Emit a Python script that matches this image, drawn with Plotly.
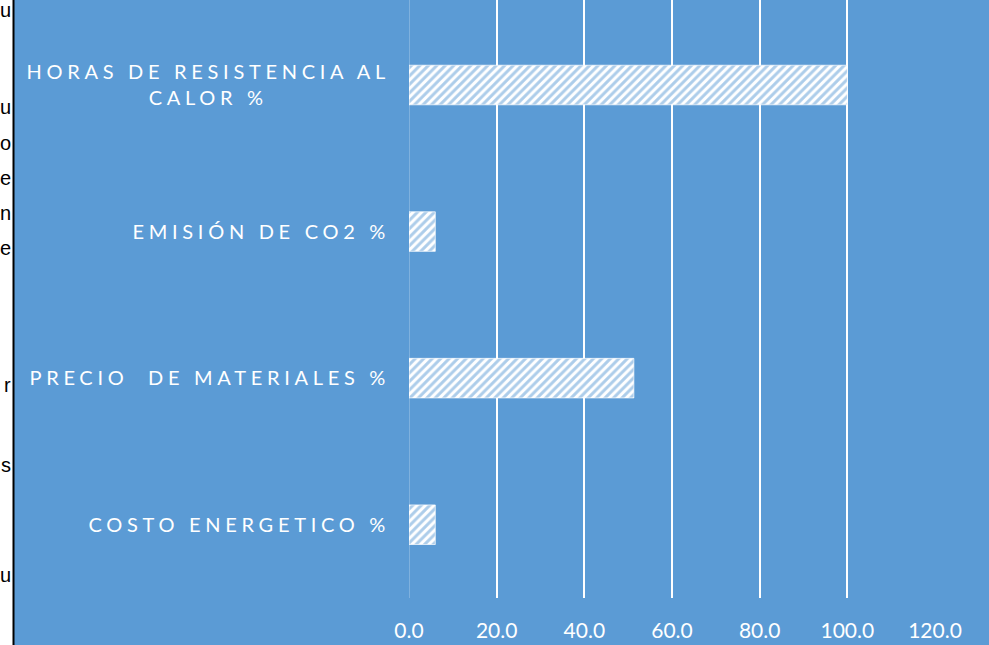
import plotly.graph_objects as go

# bars from bottom to top
categorias = ['COSTO ENERGETICO %', 'PRECIO  DE MATERIALES %', 'EMISIÓN DE CO2 %',
              'HORAS DE RESISTENCIA AL<br>CALOR %']
valores = [6.0, 51.3, 6.0, 100.0]
ticks_x = [0, 20, 40, 60, 80, 100, 120]
ticks_x_txt = ['0.0', '20.0', '40.0', '60.0', '80.0', '100.0', '120.0']

# letters of the neighbouring slide text that peek in on the left edge
letras_borde = ['u', 'u', 'o', 'e', 'n', 'e', 'r', 's', 'u']
letras_y = [10, 107, 143, 178, 213, 248, 385, 465, 575]

AZUL = '#5B9BD5'
W, H = 989, 645
ML, MR, MT, MB = 409, 54, 0, 47
PW, PH = W - ML - MR, H - MT - MB


def px_x(px):
    return (px - ML) / PW


def px_y(py):
    return (H - MB - py) / PH


fig = go.Figure()
fig.add_trace(go.Bar(
    x=valores, y=categorias, orientation='h', width=0.27,
    marker=dict(color='white', line=dict(color='rgba(255,255,255,0.7)', width=1),
                pattern=dict(shape='/', fgcolor=AZUL, bgcolor='white', size=6, solidity=0.5)),
    hoverinfo='x+y', showlegend=False,
))

# blue slide area (the page background is the white strip on the left)
fig.add_shape(type='rect', xref='paper', yref='paper', x0=px_x(14), x1=px_x(W),
              y0=px_y(H), y1=px_y(0), fillcolor=AZUL, line=dict(width=0), layer='below')
# black frame line
fig.add_shape(type='line', xref='paper', yref='paper', x0=px_x(13.5), x1=px_x(13.5),
              y0=px_y(H), y1=px_y(0), line=dict(color='black', width=2), layer='above')
# faint line at x = 0
fig.add_shape(type='line', xref='x', yref='paper', x0=0, x1=0, y0=0, y1=1,
              line=dict(color='rgba(255,255,255,0.45)', width=1))

for ch, yy in zip(letras_borde, letras_y):
    fig.add_annotation(text=ch, xref='paper', yref='paper', x=px_x(13), y=px_y(yy),
                       xanchor='right', yanchor='middle', showarrow=False,
                       font=dict(family='Liberation Sans, Arial', size=20, color='black'))

fig.update_layout(
    width=W, height=H,
    margin=dict(l=ML, r=MR, t=MT, b=MB, pad=0),
    paper_bgcolor='white', plot_bgcolor=AZUL,
    font=dict(family='Lato, Noto Sans, sans-serif', color='white'),
    xaxis=dict(range=[0, 120], tickvals=ticks_x, ticktext=ticks_x_txt,
               showgrid=True, gridcolor='white', gridwidth=1.5, zeroline=False,
               showline=False, ticks='', tickfont=dict(size=21, color='white'),
               ticklabelstandoff=18),
    yaxis=dict(categoryorder='array', categoryarray=categorias, range=[-0.5, 3.58],
               showgrid=False, zeroline=False, showline=False, ticks='',
               tickfont=dict(size=20, color='white'), ticklabelstandoff=18),
)

# Excel style wide letter spacing on the category labels, second line centred
post = """
var gd = document.getElementById('{plot_id}');
document.body.style.margin = '0';
gd.querySelectorAll('.ytick text').forEach(function(t){
    t.style.letterSpacing = '4.7px';
    var lines = t.querySelectorAll('tspan.line');
    if (lines.length > 1) {
        var w0 = lines[0].getComputedTextLength();
        for (var i = 1; i < lines.length; i++) {
            var wi = lines[i].getComputedTextLength();
            var x = parseFloat(lines[i].getAttribute('x'));
            lines[i].setAttribute('x', x - (w0 - wi) / 2);
        }
    }
});
"""

fig.write_html("out.html", post_script=post, config={'displayModeBar': False})
